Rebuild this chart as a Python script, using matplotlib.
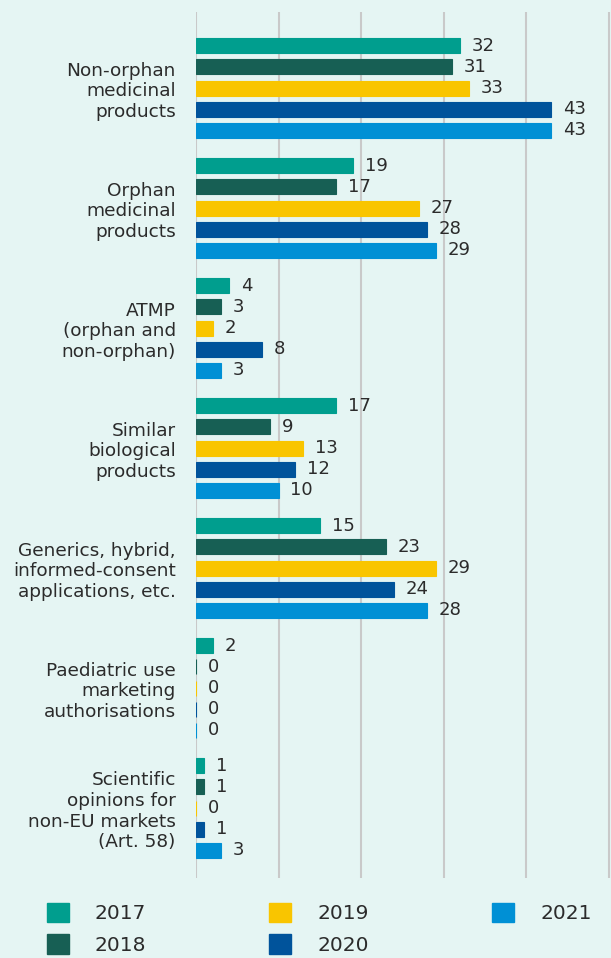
import numpy as np
import matplotlib
matplotlib.use("Agg")
import matplotlib.pyplot as plt
from matplotlib.patches import Patch

categories = [
    "Non-orphan\nmedicinal\nproducts",
    "Orphan\nmedicinal\nproducts",
    "ATMP\n(orphan and\nnon-orphan)",
    "Similar\nbiological\nproducts",
    "Generics, hybrid,\ninformed-consent\napplications, etc.",
    "Paediatric use\nmarketing\nauthorisations",
    "Scientific\nopinions for\nnon-EU markets\n(Art. 58)",
]
years = ["2017", "2018", "2019", "2020", "2021"]
v2017 = [32, 19, 4, 17, 15, 2, 1]
v2018 = [31, 17, 3, 9, 23, 0, 1]
v2019 = [33, 27, 2, 13, 29, 0, 0]
v2020 = [43, 28, 8, 12, 24, 0, 1]
v2021 = [43, 29, 3, 10, 28, 0, 3]
series = [v2017, v2018, v2019, v2020, v2021]
colors = ["#009e8e", "#175f54", "#f9c500", "#00539b", "#0090d5"]

BG = "#e5f5f3"
TXT = "#2b2b2b"
plt.rcParams.update({"font.family": "DejaVu Sans", "font.size": 13})

fig = plt.figure(figsize=(6.11, 9.58), dpi=100, facecolor=BG)
ax = fig.add_axes([196/611, 1-878/958, 1-196/611, (878-12)/958])
ax.set_facecolor(BG)

step = 0.177
h = 0.125
y = np.arange(len(categories))
for k, (vals, c) in enumerate(zip(series, colors)):
    pos = y + (k - 2) * step
    ax.barh(pos, vals, height=h, color=c, edgecolor=c,
            linewidth=0.8, zorder=3)
    for p, v in zip(pos, vals):
        ax.annotate(str(v), (v, p), xytext=(8.5, 0), textcoords="offset points",
                    ha="left", va="center", color=TXT, fontsize=13)

ax.set_xlim(0, 50.25)
ax.set_ylim(6 + 70/120, -76/120)
ax.set_xticks(range(0, 51, 10))
ax.grid(axis="x", color="#c9c9c9", linewidth=1.5, zorder=0)
ax.tick_params(left=False, bottom=False, labelbottom=False)
ax.set_yticks(y)
ax.set_yticklabels(categories, color=TXT, linespacing=1.18, fontsize=13.3)
ax.tick_params(axis="y", pad=11)
for s in ax.spines.values():
    s.set_visible(False)

handles = [Patch(facecolor=c, edgecolor=c) for c in colors]
fig.legend(handles, years, loc="upper left", bbox_to_anchor=(0.063, 0.066),
           ncol=3, frameon=False, fontsize=14.5, handlelength=1.1,
           handleheight=1.1, handletextpad=1.3, columnspacing=6.1,
           labelspacing=0.55, labelcolor=TXT, borderaxespad=0)

fig.savefig("out.png", dpi=100, facecolor=BG)
